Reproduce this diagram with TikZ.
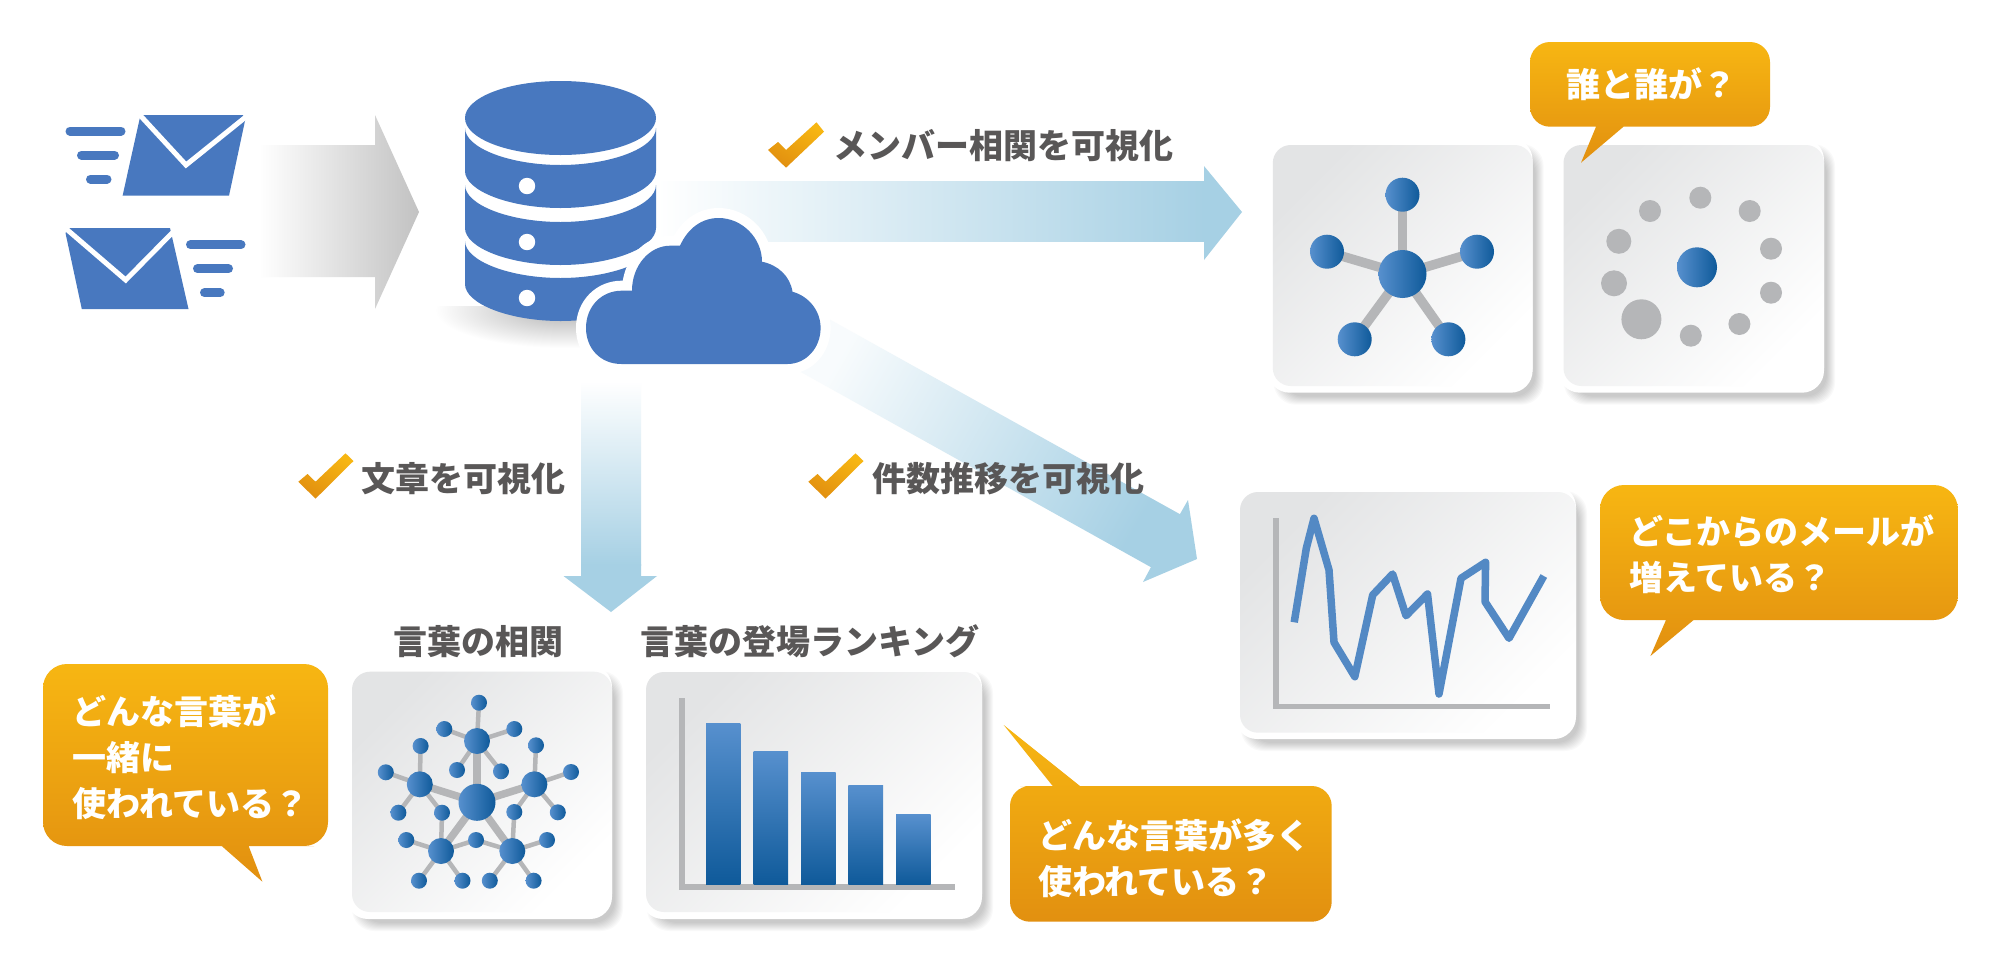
\documentclass[tikz,border=0pt]{standalone}
\usepackage{fontspec}
\setmainfont{Noto Sans CJK JP}
\usetikzlibrary{fadings}
\definecolor{dbblue}{HTML}{4878BF}
\definecolor{ab}{HTML}{A6D0E4}
\definecolor{ballL}{HTML}{5790CE}
\definecolor{ballR}{HTML}{0F5A9A}
\definecolor{gr}{HTML}{B5B6B8}
\definecolor{txt}{HTML}{595757}
\definecolor{ygold}{HTML}{F7B612}
\definecolor{ogold}{HTML}{E29010}
\definecolor{E2}{HTML}{E3E4E5}
\definecolor{F7}{HTML}{FAFAFA}
\definecolor{arrowgrey}{HTML}{C2C2C2}
\pgfdeclarelayer{back}
\pgfdeclarelayer{edge}
\pgfsetlayers{back,edge,main}
\tikzset{
  x=1pt,y=-1pt,
  ball/.style={circle,draw=none,inner sep=0pt,minimum size=#1,left color=ballL,right color=ballR},
  grayball/.style={circle,fill=gr,inner sep=0pt,minimum size=#1},
  thickedge/.style={draw=gr,line width=7.5pt},
  thinedge/.style={draw=gr,line width=4.5pt},
  spoke/.style={draw=gr,line width=9.5pt},
  title/.style={text=txt,font=\fontsize{34}{46}\selectfont\bfseries,inner sep=0pt},
  bubbletext/.style={text=white,font=\fontsize{34}{46}\selectfont\bfseries,inner sep=0pt,align=left},
  bubblefill/.style={top color=ygold,bottom color=ogold},
  checkfill/.style={bottom color=ogold,top color=ygold,shading angle=-30},
  bluefill/.style={fill=dbblue},
  speedline/.style={draw=dbblue,line width=9pt,line cap=round},
  cutline/.style={draw=white,line width=5pt},
  bar/.style={top color=ballL,bottom color=ballR,draw=none},
  axisline/.style={fill=gr},
}
% card: outer x1 y1 x2 y2, inner x1 y1 y2
\newcommand{\cardbox}[7]{%
  \begin{pgfonlayer}{back}
  \foreach \e in {0,1,...,8}{
    \fill[black,opacity=.024,rounded corners=22pt] ({#1+14-\e},{#2+14-\e}) rectangle ({#3+3+\e},{#4+4+\e});
  }
  \fill[white,rounded corners=22pt] (#1,#2) rectangle (#3,#4);
  \shade[rounded corners=18pt,top color=E2,middle color=F7,bottom color=white,shading angle=45] (#5,#6) rectangle (#3,#7);
  \end{pgfonlayer}
}
\begin{document}
\begin{tikzpicture}
\useasboundingbox (0,0) rectangle (2000,978);
\begin{pgfonlayer}{back}
\fill[white] (0,0) rectangle (2000,978);
\end{pgfonlayer}

% ---------- envelopes
\fill[bluefill] (140.5,115) -- (242.5,115) -- (245.6,118) -- (229,195.7) -- (122.6,195.7) -- cycle;
\draw[cutline] (138,113) -- (186,165) -- (247,116);
\draw[speedline] (70,131) -- (121,131);
\draw[speedline] (81.5,155) -- (114.5,155);
\draw[speedline] (90.5,179) -- (107,179);
\fill[bluefill] (69.6,228) -- (170,228) -- (188.5,309) -- (81.8,309) -- (65.5,233) -- cycle;
\draw[cutline] (64,227) -- (125.7,280) -- (175,230);
\draw[speedline] (190.5,244.7) -- (241,244.7);
\draw[speedline] (197.5,268.7) -- (228.5,268.7);
\draw[speedline] (204.5,292.7) -- (220.2,292.7);

% ---------- grey block arrow
\shade[left color=white,right color=arrowgrey] (259,145) -- (375,145) -- (375,115) -- (419,212) -- (375,309) -- (375,277) -- (259,277) -- cycle;

% ---------- blue arrows
\shade[left color=white,right color=ab] (657,181.7) -- (1205,181.7) -- (1205,241.7) -- (657,241.7) -- cycle;
\fill[ab] (1204,166) -- (1242,212) -- (1204,260) -- cycle;
\shade[top color=white,bottom color=ab] (581,381) -- (641,381) -- (641,565) -- (581,565) -- cycle;
\fill[ab] (581,564) -- (641,564) -- (641,576) -- (657,576) -- (611,612) -- (563.5,576) -- (581,576) -- cycle;
\shade[top color=ab!8!white,bottom color=ab,shading angle=60] (820,314) -- (1185,517) -- (1156,570) -- (790,366) -- cycle;
\fill[ab] (1188,500) -- (1197,559) -- (1143,582) -- (1151,567) -- (1180,514) -- cycle;

% ---------- database
\begin{scope}
\clip (430,306) rectangle (700,360);
\shade[inner color=gray!60,outer color=white] (565,310) ellipse [x radius=130,y radius=38];
\end{scope}
\fill[bluefill] (560.5,118) ellipse [x radius=95.5,y radius=37];
\foreach \yt/\yb in {128/171,185/228,241/284}{
  \fill[bluefill] (465,\yt) -- (465,\yb) .. controls (465,{\yb+20}) and (510,{\yb+37}) .. (560.5,{\yb+37}) .. controls (611,{\yb+37}) and (656,{\yb+20}) .. (656,\yb) -- (656,\yt) .. controls (656,{\yt+20}) and (611,{\yt+37}) .. (560.5,{\yt+37}) .. controls (510,{\yt+37}) and (465,{\yt+20}) .. (465,\yt) -- cycle;
}
\foreach \yy in {186,242,298}{ \fill[white] (527,\yy) circle [radius=8.2]; }

% ---------- cloud
\def\cloudpath{(621.6,364) .. controls (600,364) and (586,348) .. (586,328) .. controls (586,306) and (602,290.7) .. (621.6,290.7) -- (632,290.7) .. controls (632,265) and (650,245.7) .. (670,245.7) -- (680,245.7) .. controls (688,228) and (702,218) .. (718.6,218) .. controls (742,218) and (762,238) .. (762,261.7) .. controls (778,265) and (790,276) .. (792.5,291.7) .. controls (808,296) and (820.6,310) .. (820.6,328) .. controls (820.6,348) and (806,364) .. (787.4,364) -- cycle}
\draw[white,line width=20pt,line join=round] \cloudpath;
\fill[bluefill] \cloudpath;

% ---------- check marks and section labels
\shade[checkfill] (768,150) -- (786,167.7) -- (824,131.7) -- (816.5,122.3) -- (786,150) -- (778,142) -- cycle;
\shade[checkfill] (298.4,481.7) -- (315.5,498.7) -- (353.5,461) -- (345.5,453.3) -- (315.5,481.7) -- (307.5,474) -- cycle;
\shade[checkfill] (808.4,481.7) -- (825.5,498.7) -- (863.5,461) -- (855.5,453.3) -- (825.5,481.7) -- (817.5,474) -- cycle;
\node[title,anchor=west] (lmember) at (833,146) {メンバー相関を可視化};
\node[title,anchor=west] (lbunsho) at (361.4,478.5) {文章を可視化};
\node[title,anchor=west] (lkensu) at (872,478.5) {件数推移を可視化};
\node[title] (lcorr) at (478,641.5) {言葉の相関};
\node[title] (lrank) at (810,641.5) {言葉の登場ランキング};

% ---------- cards
\cardbox{1267.7}{138}{1532.6}{392.7}{1272.8}{145}{386}
\cardbox{1558}{138}{1824}{392.7}{1563.5}{145}{386}
\cardbox{346}{665}{612}{919}{352}{671.7}{912}
\cardbox{641}{665}{982}{919}{646}{672}{912}
\cardbox{1235}{485}{1576}{739}{1240}{492}{732.7}

% ---------- star network
\node[ball=48pt] (sc) at (1402.5,274) {};
\node[ball=34pt] (s1) at (1402.5,194.7) {};
\node[ball=34pt] (s2) at (1477,251.7) {};
\node[ball=34pt] (s3) at (1327,251.7) {};
\node[ball=34pt] (s4) at (1354.7,339.3) {};
\node[ball=34pt] (s5) at (1448.4,339.3) {};
\begin{pgfonlayer}{edge}
\foreach \n in {s1,s2,s3,s4,s5}{ \draw[spoke] (sc.center) -- (\n.center); }
\end{pgfonlayer}

% ---------- dots
\node[ball=40pt] (dc) at (1697,267.3) {};
\node[grayball=22pt] (d1) at (1700.3,197.7) {};
\node[grayball=22pt] (d2) at (1749.7,211) {};
\node[grayball=22pt] (d3) at (1771,248.7) {};
\node[grayball=22pt] (d4) at (1771,292.7) {};
\node[grayball=22pt] (d5) at (1739.4,324) {};
\node[grayball=22pt] (d6) at (1690.8,335.7) {};
\node[grayball=40pt] (d7) at (1641.4,319.3) {};
\node[grayball=26pt] (d8) at (1614,283.3) {};
\node[grayball=25pt] (d9) at (1618.8,241.3) {};
\node[grayball=22pt] (d10) at (1650,211) {};

% ---------- word network
\node[ball=37pt] (wc) at (477,802.3) {};
\node[ball=26pt] (m1) at (477,741) {};
\node[ball=26pt] (m2) at (419.8,784.3) {};
\node[ball=26pt] (m3) at (534.4,784.3) {};
\node[ball=26pt] (m4) at (441,851) {};
\node[ball=26pt] (m5) at (512.3,851) {};
\foreach \n/\px/\py in {a1/479/702.7,a2/444.3/729,a3/514.3/729,a4/457/770,a5/501/771.3,
  b1/420.6/746,b2/385.8/772.3,b3/398.4/812.7,b4/442/812.7,
  c1/536/745.3,c2/571/772,c3/514.3/812,c4/557.8/812.3,
  e1/406.3/840,e2/476/840,e3/419/880.7,e4/462.5/880.7,
  f1/547/840,f2/489.8/880.7,f3/533.6/880.7}{
  \node[ball=16pt] (\n) at (\px,\py) {};
}
\begin{pgfonlayer}{edge}
\foreach \n in {m1,m2,m3,m4,m5}{ \draw[thickedge] (wc.center) -- (\n.center); }
\foreach \p/\q in {m1/a1,m1/a2,m1/a3,m1/a4,m1/a5,m2/b1,m2/b2,m2/b3,m2/b4,m3/c1,m3/c2,m3/c3,m3/c4,m4/e1,m4/e2,m4/e3,m4/e4,m4/b4,m5/e2,m5/f1,m5/f2,m5/f3,m5/c3}{
  \draw[thinedge] (\p.center) -- (\q.center);
}
\end{pgfonlayer}

% ---------- bar chart
\fill[axisline] (679,698) rectangle (684.6,890);
\fill[axisline] (679,884) rectangle (955,890);
\shade[bar] (706,723.3) rectangle (740.3,884);
\shade[bar] (753.6,751) rectangle (788,884);
\shade[bar] (801,772) rectangle (835.7,884);
\shade[bar] (848.4,785) rectangle (883,884);
\shade[bar] (896,814.7) rectangle (930.5,884);

% ---------- line chart
\fill[axisline] (1273.3,517.7) rectangle (1279,709.3);
\fill[axisline] (1273.3,704) rectangle (1549.6,709.3);
\draw[draw=ballL!95!black,line width=7.5pt,line join=round] (1294.2,622.3) -- (1306.3,548.3) -- (1314,518.3) -- (1329,570) -- (1334,642.3) -- (1354.8,676.7) -- (1372.7,595) -- (1392.6,574) -- (1406,615.7) -- (1427.5,594) -- (1439,694) -- (1461,578.3) -- (1485.6,562.3) -- (1485,601.7) -- (1509,638.3) -- (1543.8,576);

% ---------- bubbles
\shade[bubblefill] [rounded corners=20pt] (1596,126.7) -- (1530,126.7) -- (1530,42) -- (1770,42) -- (1770,126.7) -- (1680,126.7) [sharp corners] -- (1623.5,126.7) -- (1581,162.7) -- cycle;
\node[bubbletext] (q1) at (1651,84.5) {誰と誰が？};

\shade[bubblefill] [rounded corners=24pt] (221.7,846) -- (43,846) -- (43,664) -- (328,664) -- (328,846) -- (290,846) [sharp corners] -- (248.6,846) -- (262.4,881.7) -- cycle;
\node[bubbletext,anchor=west] (q2) at (72.6,757.5) {どんな言葉が\\一緒に\\使われている？};

\shade[bubblefill] [rounded corners=20pt] (1080,786) -- (1331.7,786) -- (1331.7,921.7) -- (1010,921.7) -- (1010,786) -- (1040,786) [sharp corners] -- (1052.7,786) -- (1003.7,725) -- cycle;
\node[bubbletext,anchor=west] (q3) at (1038,858) {どんな言葉が多く\\使われている？};

\shade[bubblefill] [rounded corners=24pt] (1666,620) -- (1600,620) -- (1600,485) -- (1957.8,485) -- (1957.8,620) -- (1750,620) [sharp corners] -- (1693.6,620) -- (1650.4,656) -- cycle;
\node[bubbletext,anchor=west] (q4) at (1629,554) {どこからのメールが\\増えている？};
\end{tikzpicture}
\end{document}
